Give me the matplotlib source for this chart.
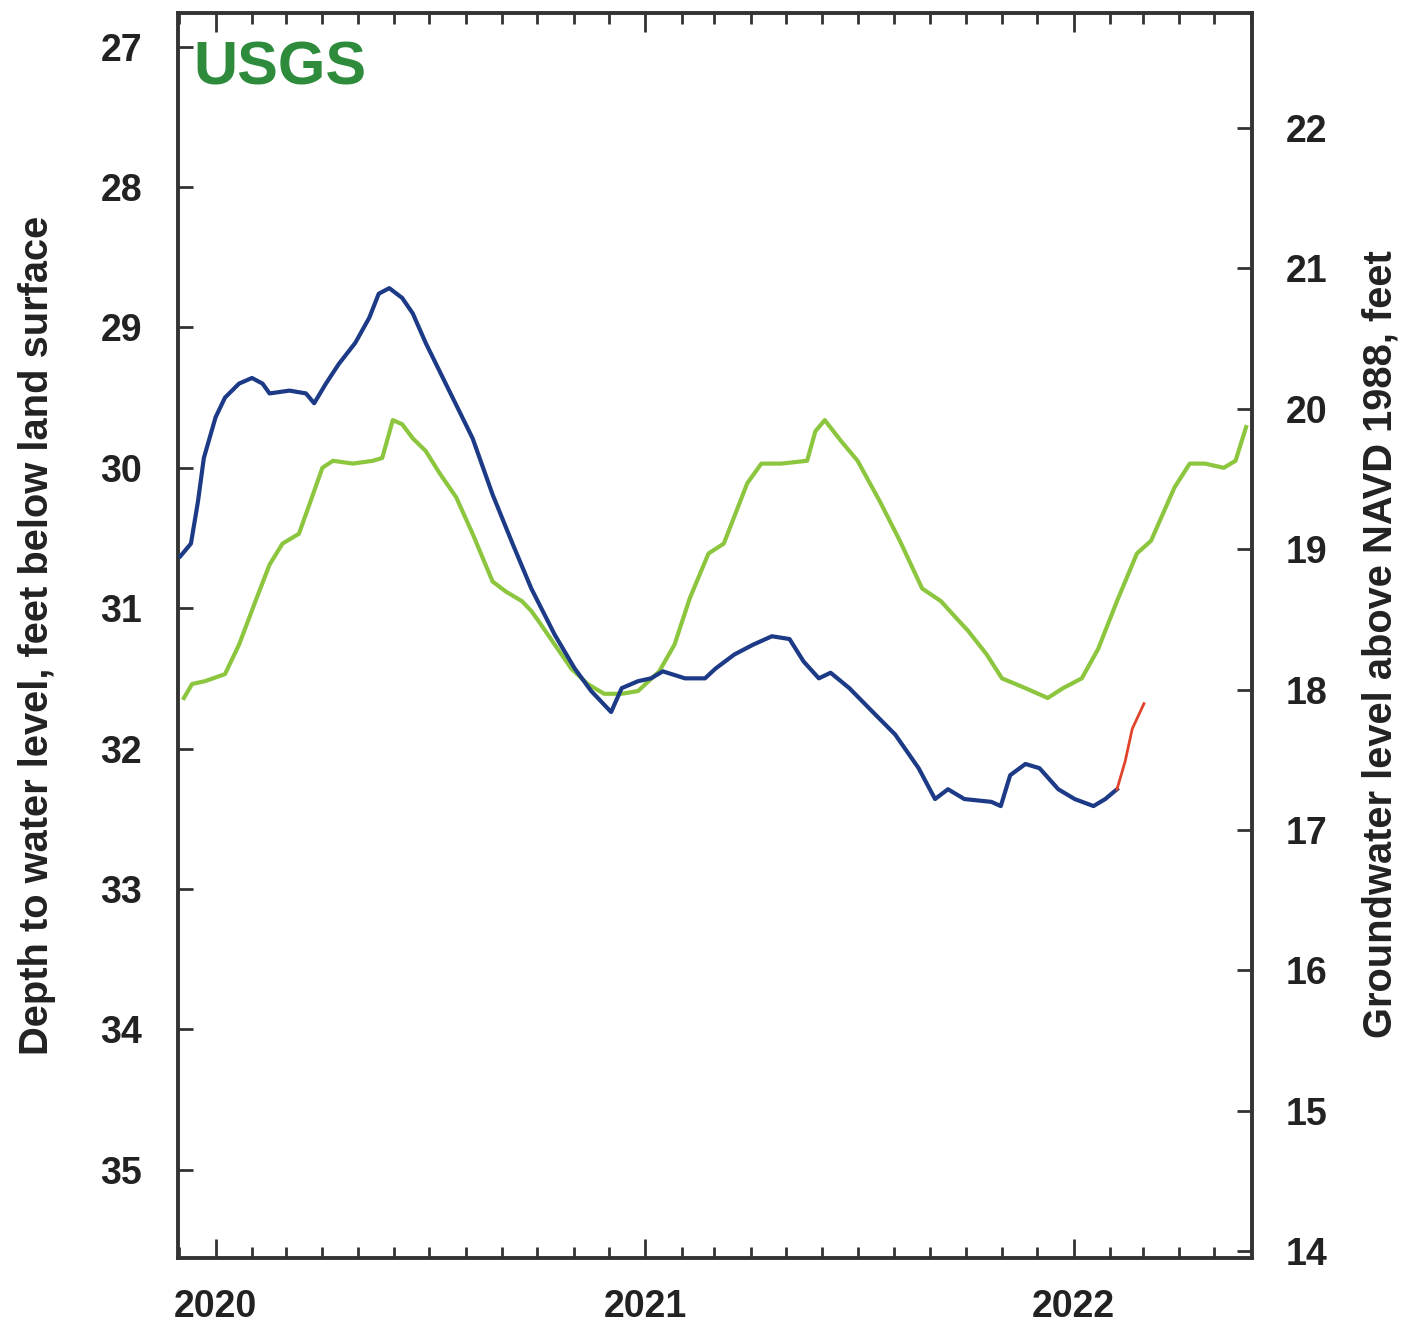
import matplotlib
matplotlib.use("Agg")
import matplotlib.pyplot as plt
import matplotlib.dates as mdates
import pandas as pd

# ---------------- data ----------------
blue_dates = ["2019-12-02", "2019-12-11", "2019-12-17", "2019-12-22", "2020-01-01", "2020-01-09",
              "2020-01-21", "2020-02-01", "2020-02-10", "2020-02-16", "2020-03-04", "2020-03-18",
              "2020-03-25", "2020-04-04", "2020-04-15", "2020-04-29", "2020-05-11", "2020-05-19",
              "2020-05-28", "2020-06-08", "2020-06-17", "2020-06-28", "2020-07-18", "2020-08-07",
              "2020-08-24", "2020-09-10", "2020-09-26", "2020-10-16", "2020-11-02", "2020-11-16",
              "2020-12-03", "2020-12-12", "2020-12-26", "2021-01-06", "2021-01-16", "2021-02-04",
              "2021-02-21", "2021-03-02", "2021-03-18", "2021-04-03", "2021-04-19", "2021-05-04",
              "2021-05-16", "2021-05-29", "2021-06-08", "2021-06-24", "2021-07-14", "2021-08-02",
              "2021-08-22", "2021-09-05", "2021-09-16", "2021-09-30", "2021-10-23", "2021-10-31",
              "2021-11-08", "2021-11-21", "2021-12-03", "2021-12-19", "2022-01-02", "2022-01-18",
              "2022-01-28", "2022-02-07"]
blue_depth = [30.63, 30.54, 30.24, 29.93, 29.64, 29.50,
              29.40, 29.36, 29.40, 29.47, 29.45, 29.47,
              29.54, 29.40, 29.26, 29.11, 28.93, 28.76,
              28.72, 28.79, 28.90, 29.11, 29.45, 29.79,
              30.19, 30.54, 30.86, 31.19, 31.43, 31.59,
              31.74, 31.57, 31.52, 31.50, 31.45, 31.50,
              31.50, 31.43, 31.33, 31.26, 31.20, 31.22,
              31.38, 31.50, 31.46, 31.57, 31.74, 31.90,
              32.14, 32.36, 32.29, 32.36, 32.38, 32.41,
              32.19, 32.11, 32.14, 32.29, 32.36, 32.41,
              32.36, 32.29]

red_dates = ["2022-02-07", "2022-02-14", "2022-02-20", "2022-03-02"]
red_depth = [32.29, 32.09, 31.86, 31.68]

green_dates = ["2019-12-05", "2019-12-12", "2019-12-23", "2020-01-09", "2020-01-21", "2020-02-04",
               "2020-02-16", "2020-02-27", "2020-03-12", "2020-03-21", "2020-04-01", "2020-04-10",
               "2020-04-27", "2020-05-14", "2020-05-22", "2020-05-31", "2020-06-08", "2020-06-17",
               "2020-06-28", "2020-07-10", "2020-07-24", "2020-08-07", "2020-08-24", "2020-09-04",
               "2020-09-18", "2020-09-26", "2020-10-02", "2020-10-16", "2020-10-30", "2020-11-13",
               "2020-11-27", "2020-12-12", "2020-12-26", "2021-01-13", "2021-01-26", "2021-02-08",
               "2021-02-24", "2021-03-09", "2021-03-29", "2021-04-10", "2021-04-27", "2021-05-19",
               "2021-05-26", "2021-06-03", "2021-06-17", "2021-07-01", "2021-07-20", "2021-08-06",
               "2021-08-25", "2021-09-10", "2021-09-23", "2021-10-03", "2021-10-19", "2021-11-01",
               "2021-11-21", "2021-12-10", "2021-12-23", "2022-01-08", "2022-01-22", "2022-02-07",
               "2022-02-24", "2022-03-08", "2022-03-28", "2022-04-10", "2022-04-23", "2022-05-09",
               "2022-05-19", "2022-05-28"]
green_depth = [31.64, 31.54, 31.52, 31.47, 31.26, 30.95,
               30.69, 30.54, 30.47, 30.26, 30.00, 29.95,
               29.97, 29.95, 29.93, 29.66, 29.69, 29.79,
               29.88, 30.04, 30.21, 30.47, 30.81, 30.88,
               30.95, 31.02, 31.09, 31.26, 31.43, 31.54,
               31.61, 31.61, 31.59, 31.45, 31.26, 30.93,
               30.61, 30.54, 30.11, 29.97, 29.97, 29.95,
               29.74, 29.66, 29.81, 29.95, 30.24, 30.52,
               30.86, 30.95, 31.07, 31.16, 31.33, 31.50,
               31.57, 31.64, 31.57, 31.50, 31.29, 30.95,
               30.61, 30.52, 30.14, 29.97, 29.97, 30.00,
               29.95, 29.71]

left_ticks = [27, 28, 29, 30, 31, 32, 33, 34, 35]
right_ticks = [14, 15, 16, 17, 18, 19, 20, 21, 22]
land_surface_elev = 49.58  # depth -> elevation offset

x_start, x_end = "2019-11-30", "2022-06-02"
depth_top, depth_bottom = 26.76, 35.63

# ---------------- plot ----------------
FONT = ["Liberation Sans", "DejaVu Sans"]
plt.rcParams["font.family"] = FONT

fig = plt.figure(figsize=(14.14, 13.3), dpi=100)
ax = fig.add_axes([0.1259, 0.0541, 0.7595, 0.9361])

blue_c = "#1c3a86"
green_c = "#8cc63f"
red_c = "#e0442c"

ax.plot(pd.to_datetime(green_dates), green_depth, color=green_c, lw=3.0, zorder=3)
ax.plot(pd.to_datetime(blue_dates), blue_depth, color=blue_c, lw=3.0, zorder=4)
ax.plot(pd.to_datetime(red_dates), red_depth, color=red_c, lw=2.0, zorder=4)

ax.set_xlim(pd.to_datetime(x_start), pd.to_datetime(x_end))
ax.set_ylim(depth_bottom, depth_top)
ax.set_yticks(left_ticks)

ax.xaxis.set_major_locator(mdates.YearLocator())
ax.xaxis.set_major_formatter(mdates.DateFormatter("%Y"))
ax.xaxis.set_minor_locator(mdates.MonthLocator())

frame_c = "#333333"
for s in ax.spines.values():
    s.set_linewidth(2.8)
    s.set_color(frame_c)

ax.tick_params(axis="x", which="major", direction="in", length=14, width=2,
               top=True, bottom=True, pad=22, labelsize=27, colors=frame_c, labelcolor="#222222")
ax.tick_params(axis="x", which="minor", direction="in", length=8, width=2,
               top=True, bottom=True, colors=frame_c)
ax.tick_params(axis="y", which="major", direction="in", length=11, width=2,
               left=True, right=False, pad=26, labelsize=27, colors=frame_c, labelcolor="#222222")
for lab in ax.get_xticklabels() + ax.get_yticklabels():
    lab.set_fontweight("bold")

ax.set_ylabel("Depth to water level, feet below land surface", fontsize=28.7,
              fontweight="bold", color="#222222", labelpad=32)

ax2 = ax.twinx()
ax2.set_ylim(land_surface_elev - depth_bottom, land_surface_elev - depth_top)
ax2.set_yticks(right_ticks)
ax2.tick_params(axis="y", which="major", direction="in", length=11, width=2,
                right=True, left=False, pad=24, labelsize=27, colors=frame_c, labelcolor="#222222")
for lab in ax2.get_yticklabels():
    lab.set_fontweight("bold")
for s in ax2.spines.values():
    s.set_visible(False)
ax2.set_ylabel("Groundwater level above NAVD 1988, feet", fontsize=28.7,
               fontweight="bold", color="#222222", labelpad=25)
ax2.yaxis.label.set_y(0.493)

ax.text(0.014, 0.978, "USGS", transform=ax.transAxes, ha="left", va="top",
        fontsize=44, fontweight="bold", color="#2e8b3c")

fig.savefig("out.png", dpi=100, facecolor="white")
